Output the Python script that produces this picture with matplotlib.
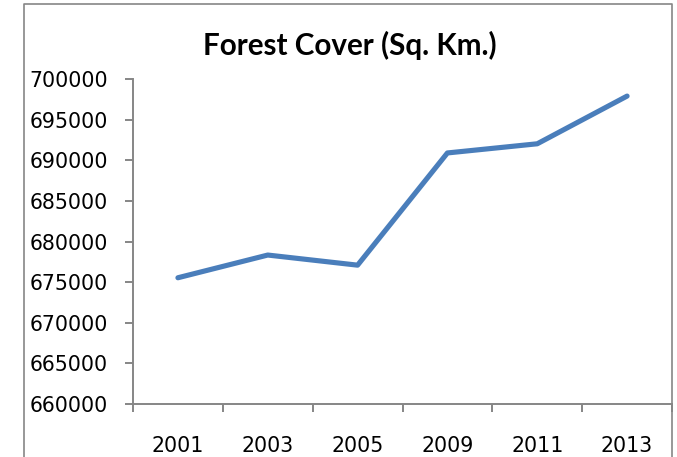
import matplotlib
matplotlib.use("Agg")
import matplotlib.pyplot as plt
from matplotlib.lines import Line2D
import numpy as np

years = ["2001", "2003", "2005", "2009", "2011", "2013"]
forest_cover = [675538, 678333, 677088, 690899, 692027, 697898]
y_ticks = list(range(660000, 700001, 5000))

W, H = 677, 457
fig = plt.figure(figsize=(W / 100, H / 100), dpi=100)
ax = fig.add_axes([133 / W, 1 - 404 / H, (672 - 133) / W, (404 - 79) / H])

x = np.arange(len(years))
ax.plot(x, forest_cover, color="#4A7EBB", lw=3.7, solid_capstyle="round",
        solid_joinstyle="round")

ax.set_xlim(-0.5, len(years) - 0.5)
ax.set_ylim(y_ticks[0], y_ticks[-1])

axis_col = "#868686"
for side in ["top", "right"]:
    ax.spines[side].set_visible(False)
for side in ["left", "bottom"]:
    ax.spines[side].set_color(axis_col)
    ax.spines[side].set_linewidth(1.4)

ax.set_yticks(y_ticks)
ax.set_yticklabels([str(v) for v in y_ticks])
ax.tick_params(axis="y", length=6, width=1.4, color=axis_col, pad=12,
               labelsize=14.8, labelcolor="black")

ax.set_xticks(x)
ax.set_xticklabels(years)
ax.set_xticks(np.arange(-0.5, len(years), 1.0), minor=True)
ax.tick_params(axis="x", which="major", length=0, pad=23, labelsize=14.8,
               labelcolor="black")
ax.tick_params(axis="x", which="minor", length=6, width=1.4, color=axis_col)

fig.text(350 / W, 1 - 55 / H, "Forest Cover (Sq. Km.)", ha="center",
         va="baseline", fontsize=21.3, fontweight="bold", family="Lato")

# chart area border (bottom edge is cropped off in the reference)
bx = [24 / W, 24 / W, 671.5 / W, 671.5 / W]
by = [-0.1, 1 - 4 / H, 1 - 4 / H, -0.1]
fig.add_artist(Line2D(bx, by, transform=fig.transFigure, color=axis_col, lw=1.2))

fig.savefig("out.png", dpi=100)
